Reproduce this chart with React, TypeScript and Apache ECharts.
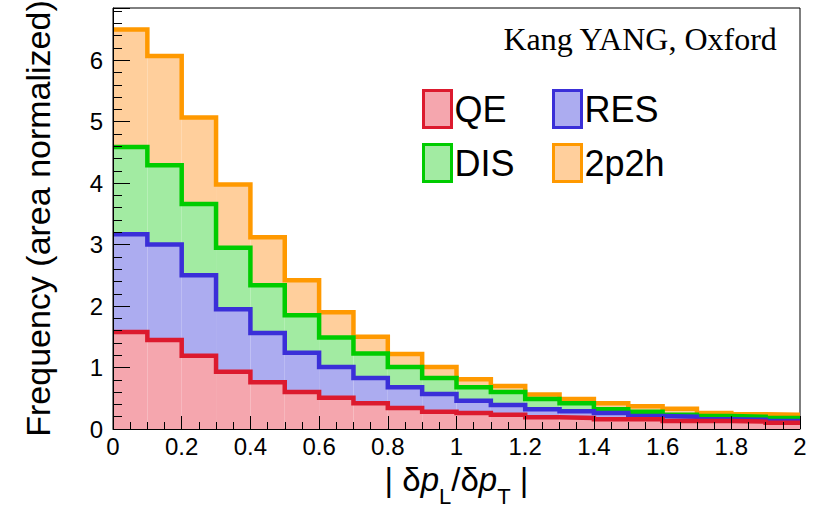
import React, { useEffect, useRef } from "react";
import * as echarts from "echarts";

// bin edges of the histogram (20 bins, width 0.1)
const binEdges = [0, 0.1, 0.2, 0.3, 0.4, 0.5, 0.6, 0.7, 0.8, 0.9, 1.0, 1.1, 1.2, 1.3, 1.4, 1.5, 1.6, 1.7, 1.8, 1.9, 2.0];

// per-channel bin contents (stacked: QE at bottom, 2p2h on top)
const qeValues = [1.58, 1.45, 1.19, 0.93, 0.76, 0.6, 0.51, 0.42, 0.34, 0.28, 0.26, 0.23, 0.19, 0.18, 0.16, 0.16, 0.13, 0.13, 0.12, 0.1];
const resValues = [1.59, 1.55, 1.31, 1.02, 0.8, 0.64, 0.5, 0.41, 0.34, 0.29, 0.2, 0.16, 0.13, 0.11, 0.1, 0.05, 0.07, 0.03, 0.03, 0.03];
const disValues = [1.42, 1.29, 1.16, 1.0, 0.78, 0.61, 0.48, 0.4, 0.33, 0.26, 0.22, 0.21, 0.17, 0.13, 0.06, 0.07, 0.03, 0.05, 0.05, 0.05];
const twoP2hValues = [1.91, 1.78, 1.41, 1.03, 0.78, 0.57, 0.41, 0.27, 0.21, 0.18, 0.13, 0.1, 0.07, 0.07, 0.1, 0.09, 0.1, 0.05, 0.04, 0.05];

const channelNames = ["QE", "RES", "DIS", "2p2h"];
const lineColors = ["#dc1a2e", "#3a2fd8", "#00cc00", "#ff9900"];
const fillColors = ["#f5a6ae", "#acacf0", "#a2eba2", "#ffcf9c"];

const xAxisTitle = "| δ{i|p}{sub|L}/δ{i|p}{sub|T} |";
const yAxisTitle = "Frequency (area normalized)";
const authorText = "Kang YANG, Oxford";

const legendPos = [
  { left: 422, top: 89 },
  { left: 552, top: 89 },
  { left: 422, top: 143 },
  { left: 552, top: 143 },
];

export default function App() {
  const ref = useRef<HTMLDivElement>(null);

  useEffect(() => {
    if (!ref.current) return;
    const chart = echarts.init(ref.current, null, { renderer: "svg" });

    const layers = [qeValues, resValues, disValues, twoP2hValues];
    const cum: number[][] = [];
    layers.forEach((layer, k) => {
      cum.push(layer.map((v, i) => (k === 0 ? 0 : cum[k - 1][i]) + v));
    });

    const fillSeries = layers.map((_, k) => ({
      type: "custom",
      name: channelNames[k],
      z: 1,
      clip: true,
      encode: { x: [0, 1], y: [2, 3] },
      data: cum[k].map((top, i) => [binEdges[i], binEdges[i + 1], k === 0 ? 0 : cum[k - 1][i], top]),
      renderItem: (params: any, api: any) => {
        const p0 = api.coord([api.value(0), api.value(2)]);
        const p1 = api.coord([api.value(1), api.value(3)]);
        return {
          type: "rect",
          shape: { x: p0[0], y: p1[1], width: p1[0] - p0[0], height: p0[1] - p1[1] },
          style: { fill: fillColors[k] },
        };
      },
    }));

    const lineSeries = [3, 2, 1, 0].map((k) => ({
      type: "line",
      name: channelNames[k] + " outline",
      z: 3,
      step: "end",
      symbol: "none",
      showSymbol: false,
      silent: true,
      lineStyle: { color: lineColors[k], width: 4.5, join: "miter", cap: "butt" },
      data: [...cum[k].map((v, i) => [binEdges[i], v]), [binEdges[binEdges.length - 1], cum[k][cum[k].length - 1]]],
    }));

    const legends = channelNames.map((name, k) => ({
      show: true,
      left: legendPos[k].left,
      top: legendPos[k].top,
      padding: 0,
      orient: "horizontal",
      itemWidth: 28,
      itemHeight: 37,
      itemGap: 0,
      selectedMode: false,
      textStyle: { fontFamily: "Liberation Sans", fontSize: 36, color: "#000", padding: [0, 0, 0, -2] },
      data: [
        {
          name,
          icon: "rect",
          itemStyle: { color: fillColors[k], borderColor: lineColors[k], borderWidth: 3 },
        },
      ],
    }));

    const option: any = {
      animation: false,
      backgroundColor: "#fff",
      title: {
        text: authorText,
        right: 38,
        top: 23,
        padding: 0,
        textStyle: { fontFamily: "Liberation Serif", fontSize: 32, fontWeight: "normal", color: "#000" },
      },
      legend: legends,
      grid: {
        left: 113,
        right: 16,
        top: 8,
        bottom: 81,
        show: true,
        borderColor: "#000",
        borderWidth: 1,
        backgroundColor: "transparent",
        containLabel: false,
        outerBoundsMode: "none",
      },
      xAxis: {
        type: "value",
        z: 10,
        min: 0,
        max: 2,
        interval: 0.2,
        name: xAxisTitle,
        nameLocation: "middle",
        nameGap: 22,
        nameMoveOverlap: false,
        nameTextStyle: {
          fontFamily: "Liberation Sans",
          fontSize: 33,
          lineHeight: 56,
          color: "#000",
          verticalAlign: "top",
          rich: {
            i: { fontFamily: "Liberation Sans", fontStyle: "italic", fontSize: 33, lineHeight: 56, color: "#000" },
            sub: { fontFamily: "Liberation Sans", fontSize: 22, lineHeight: 6, verticalAlign: "bottom", color: "#000" },
          },
        },
        axisLine: { show: true, lineStyle: { color: "#000", width: 1 } },
        axisTick: { show: true, inside: true, length: 13, lineStyle: { color: "#000", width: 1 } },
        minorTick: { show: true, splitNumber: 4, length: 7, lineStyle: { color: "#000", width: 1 } },
        axisLabel: { show: true, margin: 5, fontFamily: "Liberation Sans", fontSize: 24, color: "#000" },
        splitLine: { show: false },
        minorSplitLine: { show: false },
      },
      yAxis: {
        type: "value",
        z: 10,
        min: 0,
        max: 6.85,
        interval: 1,
        name: yAxisTitle,
        nameLocation: "middle",
        nameGap: 58,
        nameTextStyle: { fontFamily: "Liberation Sans", fontSize: 34, color: "#000" },
        axisLine: { show: true, lineStyle: { color: "#000", width: 1 } },
        axisTick: { show: true, inside: true, length: 17, lineStyle: { color: "#000", width: 1 } },
        minorTick: { show: true, splitNumber: 5, length: 9, lineStyle: { color: "#000", width: 1 } },
        axisLabel: {
          show: true,
          margin: 10,
          fontFamily: "Liberation Sans",
          fontSize: 24,
          color: "#000",
          formatter: (v: number) => (Number.isInteger(Math.round(v * 1000) / 1000) ? String(Math.round(v)) : ""),
        },
        splitLine: { show: false },
        minorSplitLine: { show: false },
      },
      series: [...fillSeries, ...lineSeries],
    };

    chart.setOption(option);
    return () => chart.dispose();
  }, []);

  return <div ref={ref} style={{ position: "fixed", left: 0, top: 0, width: 816, height: 510 }} />;
}
